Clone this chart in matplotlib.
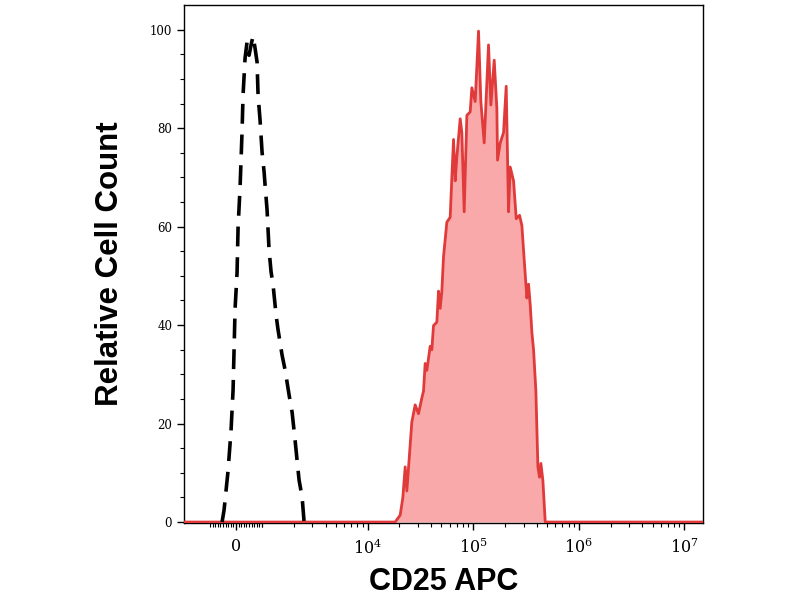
import matplotlib
matplotlib.use("Agg")
import matplotlib.pyplot as plt
import numpy as np

# ---- data ----
# unstained control (black dashed), CD25 APC intensity vs relative count
ctrl_x = [-538, -462, -308, -192, -115, -77, -38, 38, 77, 154, 192, 231, 269,
          346, 423, 500, 577, 654, 731, 808, 846, 923, 1000, 1045, 1068, 1115,
          1165, 1217, 1272, 1358, 1418, 1547, 1652, 1803, 1925, 2055, 2147,
          2242, 2394, 2501]
ctrl_y = [0, 2.4, 10.4, 18.7, 26.8, 34.9, 43.3, 50.6, 59.7, 68.0, 73.5, 79.4,
          86.7, 94.2, 97.5, 94.8, 96.9, 98.7, 96.2, 93.4, 86.7, 81.6, 75.1,
          71.1, 68.4, 63.4, 55.2, 50.8, 48.1, 42.0, 39.0, 33.9, 30.9, 25.8,
          22.3, 16.6, 12.5, 8.5, 5.1, 0]

# stained sample (red filled)
cd25_x = [-1765, 18230, 20330, 21540, 22680, 23520, 26220, 28200, 30330, 32620,
          33830, 35080, 36380, 39130, 40580, 42080, 45250, 46930, 48670,
          50470, 52350, 56300, 60540, 62780, 65120, 67530, 70040, 75310,
          78100, 82160, 87100, 93680, 97140, 104470, 112330, 118200, 127140,
          139710, 147070, 158170, 167650, 170070, 180300, 193900, 205500,
          216200, 224200, 241200, 255700, 274900, 289300, 304400, 322600,
          334600, 347000, 359800, 373200, 392600, 410200, 425400, 437900,
          457500, 481400, 1.51e7]
cd25_y = [0, 0, 1.4, 4.9, 11.2, 6.3, 20.3, 23.8, 22.0, 25.2, 26.6, 32.2, 30.8,
          35.7, 35.0, 39.9, 40.6, 46.9, 43.4, 46.9, 53.9, 60.9, 61.9, 70.0,
          77.7, 69.3, 74.2, 81.9, 79.1, 63.0, 82.6, 83.3, 88.2, 85.4, 99.7,
          85.4, 77.0, 96.9, 84.7, 93.8, 84.0, 73.5, 77.0, 79.1, 88.5, 63.0,
          72.1, 69.3, 61.6, 62.3, 60.2, 53.2, 45.5, 48.3, 44.1, 38.5, 35.0,
          26.6, 11.2, 9.1, 11.9, 8.4, 0, 0]

x_ticks = [0, 1e4, 1e5, 1e6, 1e7]
x_ticklabels = ["0", "$10^{4}$", "$10^{5}$", "$10^{6}$", "$10^{7}$"]
y_ticks = [0, 20, 40, 60, 80, 100]

plt.rcParams["mathtext.fontset"] = "dejavuserif"

fig = plt.figure(figsize=(8, 6), dpi=100)
ax = fig.add_axes([0.23, 0.1283, 0.649, 0.8633])

ax.set_xscale("symlog", linthresh=1000, linscale=0.2218, base=10)

ax.fill_between(cd25_x, cd25_y, 0, color="#F9A9A9", lw=0, zorder=2)
ax.plot(cd25_x, cd25_y, color="#E03A3A", lw=2.0, zorder=3)
ax.plot(ctrl_x, ctrl_y, color="black", lw=2.6, dashes=(5.5, 3.0),
        zorder=4, solid_capstyle="butt", dash_capstyle="butt")

ax.set_xlim(-1765, 1.51e7)
ax.set_ylim(-0.2, 105)

ax.set_xticks(x_ticks)
ax.set_xticklabels(x_ticklabels, family="DejaVu Serif", fontsize=11.5)
minor_x = list(range(-1000, 1001, 100))
for n in range(3, 7):
    for k in range(1 if n == 3 else 2, 10):
        minor_x.append(k * 10 ** n)
ax.set_xticks(minor_x, minor=True)

ax.set_yticks(y_ticks)
ax.set_yticklabels([str(v) for v in y_ticks], family="DejaVu Serif", fontsize=8.5)
ax.set_yticks(np.arange(0, 105, 5), minor=True)

ax.tick_params(axis="both", which="major", length=5, width=1, direction="out",
               color="black")
ax.tick_params(axis="both", which="minor", length=3, width=0.8,
               direction="out", color="black")
ax.tick_params(axis="x", pad=6)

for s in ax.spines.values():
    s.set_linewidth(1.0)
    s.set_color("black")

ax.set_xlabel("CD25 APC", family="Liberation Sans", fontweight="bold",
              fontsize=22, labelpad=7)
ax.set_ylabel("Relative Cell Count", family="Liberation Sans",
              fontweight="bold", fontsize=22.5, labelpad=18)

fig.savefig("out.png", dpi=100)
